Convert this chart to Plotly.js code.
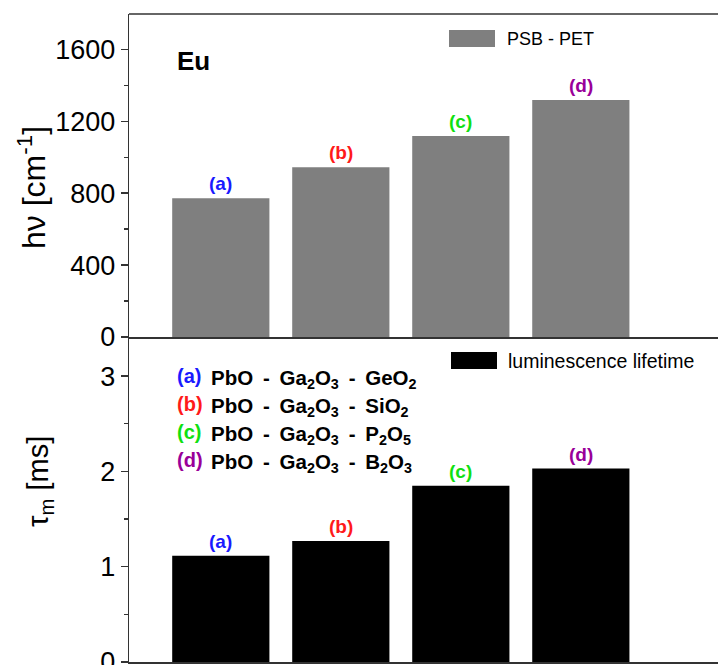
<!DOCTYPE html>
<html>
<head>
<meta charset="utf-8">
<script src="https://cdn.plot.ly/plotly-3.0.1.min.js"></script>
<style>
html, body { margin: 0; padding: 0; overflow: hidden; background: #fff; }
#chart { width: 718px; height: 665px; }
</style>
</head>
<body>
<div id="chart"></div>
<script>
// ---- data ----
const categories = ['(a)', '(b)', '(c)', '(d)'];
const glassSystems = [
  'PbO - Ga<sub>2</sub>O<sub>3</sub> - GeO<sub>2</sub>',
  'PbO - Ga<sub>2</sub>O<sub>3</sub> - SiO<sub>2</sub>',
  'PbO - Ga<sub>2</sub>O<sub>3</sub> - P<sub>2</sub>O<sub>5</sub>',
  'PbO - Ga<sub>2</sub>O<sub>3</sub> - B<sub>2</sub>O<sub>3</sub>'
];
const phononEnergy = [771, 944, 1118, 1318];      // hν [cm^-1], PSB - PET
const lifetime = [1.115, 1.27, 1.85, 2.03];       // τm [ms]
const topTicks = [0, 400, 800, 1200, 1600];
const bottomTicks = [0, 1, 2, 3];

// ---- styles ----
const labelColors = ['#1a1aff', '#ff1a1a', '#10e010', '#990099'];
const FONT = 'Liberation Sans, Arial, sans-serif';
const W = 718, H = 665;
const L = 129, R = 0, T = 14, B = 3;
const plotW = W - L - R, plotH = H - T - B;
const splitPx = 337; // boundary between panels
const split = (H - B - splitPx) / plotH;
const px = x => (x - L) / plotW;
const py = y => (H - B - y) / plotH;

const xr = [-0.765, 4.143];

const traces = [
  { type: 'bar', x: categories, y: phononEnergy, xaxis: 'x', yaxis: 'y',
    width: 0.81, marker: { color: '#7f7f7f', line: { width: 0 } },
    name: 'PSB - PET', showlegend: false, hoverinfo: 'skip' },
  { type: 'bar', x: categories, y: lifetime, xaxis: 'x2', yaxis: 'y2',
    width: 0.81, marker: { color: '#000000', line: { width: 0 } },
    name: 'luminescence lifetime', showlegend: false, hoverinfo: 'skip' }
];

const yCommon = {
  showline: true, linecolor: '#333', linewidth: 1.3,
  ticks: 'outside', ticklen: 7, tickwidth: 1.3, tickcolor: '#333',
  tickfont: { family: FONT, size: 27, color: '#000' },
  ticklabeloverflow: 'allow',
  showgrid: false, zeroline: false, fixedrange: true,
  minor: { ticks: 'outside', ticklen: 4, tickwidth: 1.2, tickcolor: '#333', showgrid: false }
};

const sp = s => s.replace(/ - /g, '&#8201;&nbsp;-&nbsp;&#8201;');

const annotations = [];
// bar labels
categories.forEach((c, i) => {
  annotations.push({ xref: 'x', yref: 'y', x: c, y: phononEnergy[i], yanchor: 'bottom',
    yshift: 2, showarrow: false, text: '<b>' + c + '</b>',
    font: { family: FONT, size: 19, color: labelColors[i] } });
  annotations.push({ xref: 'x2', yref: 'y2', x: c, y: lifetime[i], yanchor: 'bottom',
    yshift: 2, showarrow: false, text: '<b>' + c + '</b>',
    font: { family: FONT, size: 19, color: labelColors[i] } });
});
// composition key
const rowY = [376, 404, 432, 460];
categories.forEach((c, i) => {
  annotations.push({ xref: 'paper', yref: 'paper', x: px(175), y: py(rowY[i]),
    xanchor: 'left', yanchor: 'middle', showarrow: false, text: '<b>' + c + '</b>',
    font: { family: FONT, size: 20, color: labelColors[i] } });
  annotations.push({ xref: 'paper', yref: 'paper', x: px(209), y: py(rowY[i] + 3),
    xanchor: 'left', yanchor: 'middle', showarrow: false, text: '<b>' + sp(glassSystems[i]) + '</b>',
    font: { family: FONT, size: 20.5, color: '#000' } });
});
// Eu
annotations.push({ xref: 'paper', yref: 'paper', x: px(175), y: py(61), xanchor: 'left', yanchor: 'middle',
  showarrow: false, text: '<b>Eu</b>', font: { family: FONT, size: 26, color: '#000' } });
// legend texts
annotations.push({ xref: 'paper', yref: 'paper', x: px(505), y: py(38.5), xanchor: 'left', yanchor: 'middle',
  showarrow: false, text: 'PSB - PET', font: { family: FONT, size: 18, color: '#000' } });
annotations.push({ xref: 'paper', yref: 'paper', x: px(506), y: py(361), xanchor: 'left', yanchor: 'middle',
  showarrow: false, text: 'luminescence lifetime', font: { family: FONT, size: 19.5, color: '#000' } });
// axis titles
annotations.push({ xref: 'paper', yref: 'paper', x: px(32), y: py(188), xanchor: 'center', yanchor: 'middle',
  textangle: -90, showarrow: false, text: 'hν [cm<sup>-1</sup>]', font: { family: FONT, size: 32, color: '#000' } });
annotations.push({ xref: 'paper', yref: 'paper', x: px(40), y: py(482), xanchor: 'center', yanchor: 'middle',
  textangle: -90, showarrow: false, text: 'τ<sub>m</sub> [ms]', font: { family: FONT, size: 29, color: '#000' } });

const shapes = [
  // top frame line
  { type: 'line', xref: 'paper', yref: 'paper', x0: 0, x1: 1, y0: 1, y1: 1,
    line: { color: '#333', width: 1.5 } },
  // legend swatches
  { type: 'rect', xref: 'paper', yref: 'paper', x0: px(449), x1: px(495), y0: py(47), y1: py(30),
    fillcolor: '#7f7f7f', line: { width: 0 } },
  { type: 'rect', xref: 'paper', yref: 'paper', x0: px(451), x1: px(497), y0: py(369), y1: py(352),
    fillcolor: '#000000', line: { width: 0 } }
];

const layout = {
  width: W, height: H,
  margin: { l: L, r: R, t: T, b: B, pad: 0 },
  paper_bgcolor: '#fff', plot_bgcolor: '#fff',
  showlegend: false,
  xaxis: { domain: [0, 1], anchor: 'y', range: xr, type: 'category', showticklabels: false,
    ticks: '', showgrid: false, zeroline: false, showline: true, linecolor: '#333', linewidth: 1.5, fixedrange: true },
  xaxis2: { domain: [0, 1], anchor: 'y2', range: xr, type: 'category', showticklabels: false,
    ticks: '', showgrid: false, zeroline: false, showline: true, linecolor: '#333', linewidth: 1.5, fixedrange: true },
  yaxis: Object.assign({}, yCommon, { domain: [split, 1], anchor: 'x', range: [0, 1796],
    tickvals: topTicks, ticktext: topTicks.map(String), minor: Object.assign({}, yCommon.minor, { dtick: 200, tick0: 0 }) }),
  yaxis2: Object.assign({}, yCommon, { domain: [0, split], anchor: 'x2', range: [0, 3.41],
    tickvals: bottomTicks, ticktext: bottomTicks.map(String), minor: Object.assign({}, yCommon.minor, { dtick: 0.5, tick0: 0 }) }),
  annotations: annotations,
  shapes: shapes
};

Plotly.newPlot('chart', traces, layout, { displayModeBar: false, staticPlot: true });
</script>
</body>
</html>
